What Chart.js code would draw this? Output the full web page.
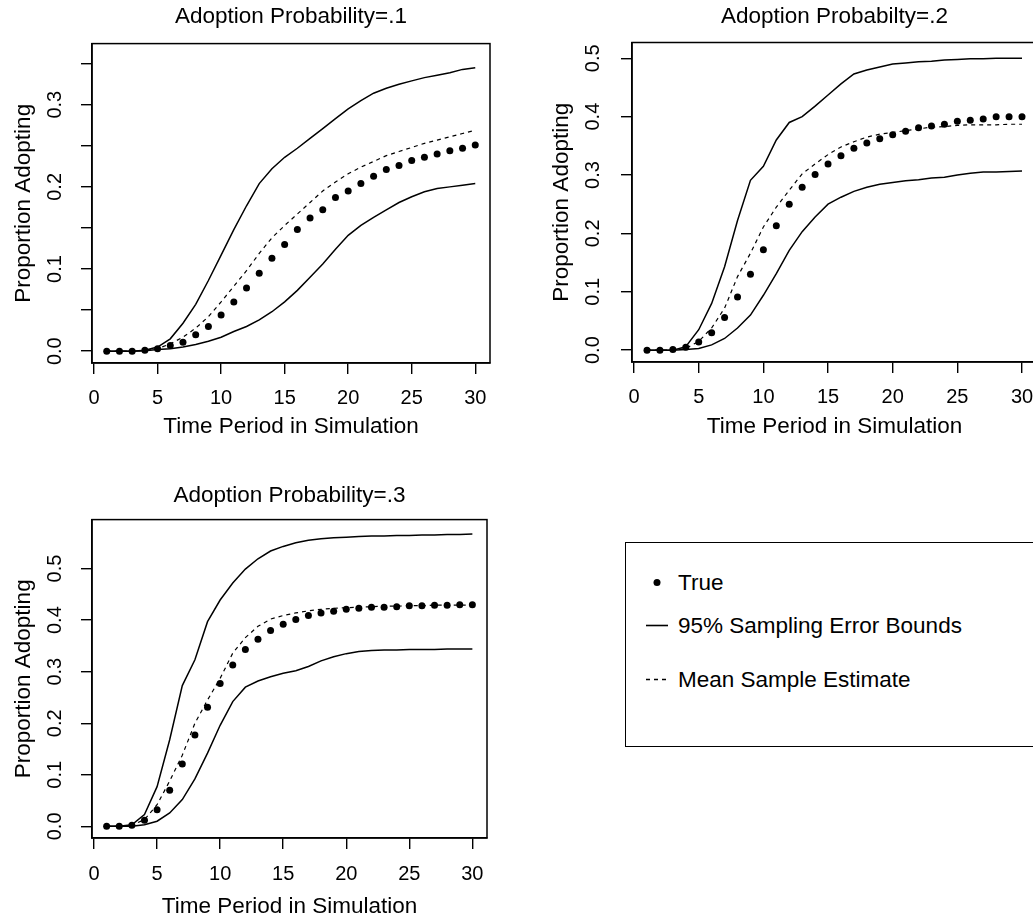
<!DOCTYPE html>
<html>
<head>
<meta charset="utf-8">
<script src="https://cdn.jsdelivr.net/npm/chart.js@4"></script>
<style>
  html, body { margin: 0; padding: 0; background: #fff; width: 1033px; height: 921px; overflow: hidden; }
  canvas { position: absolute; }
  #legend {
    position: absolute; left: 625px; top: 542px; width: 430px; height: 205px;
    border: 1.5px solid #000; box-sizing: border-box;
    font: 22.5px "Liberation Sans", Arial, sans-serif; color: #000;
  }
  #legend .row { position: absolute; left: 0; height: 27px; line-height: 27px; white-space: nowrap; }
  #legend svg { position: absolute; left: 19px; top: 0; }
  #legend span { position: absolute; left: 52px; top: 0; }
</style>
</head>
<body>
<canvas id="p1" width="516" height="440" style="left:0px;top:0px"></canvas>
<canvas id="p2" width="520" height="440" style="left:540px;top:0px"></canvas>
<canvas id="p3" width="516" height="443" style="left:0px;top:478px"></canvas>
<div id="legend">
  <div class="row" style="top:26px">
    <svg width="24" height="27"><circle cx="12" cy="13.5" r="3.5" fill="#000"/></svg>
    <span>True</span>
  </div>
  <div class="row" style="top:69px">
    <svg width="24" height="27"><line x1="1" y1="13.5" x2="23" y2="13.5" stroke="#000" stroke-width="1.6"/></svg>
    <span>95% Sampling Error Bounds</span>
  </div>
  <div class="row" style="top:123px">
    <svg width="24" height="27"><line x1="1" y1="13.5" x2="23" y2="13.5" stroke="#000" stroke-width="1.4" stroke-dasharray="4 4"/></svg>
    <span>Mean Sample Estimate</span>
  </div>
</div>
<script>
const periods = [1, 2, 3, 4, 5, 6, 7, 8, 9, 10, 11, 12, 13, 14, 15, 16, 17, 18, 19, 20, 21, 22, 23, 24, 25, 26, 27, 28, 29, 30];
const xTicks = [0, 5, 10, 15, 20, 25, 30];

// Adoption probability .1
const true1 = [0, 0, 0, 0.001, 0.003, 0.007, 0.011, 0.020, 0.030, 0.044, 0.060, 0.077, 0.095, 0.113, 0.130, 0.148, 0.162, 0.172, 0.187, 0.195, 0.204, 0.213, 0.221, 0.226, 0.232, 0.236, 0.240, 0.244, 0.247, 0.251];
const upper1 = [0, 0, 0, 0.001, 0.005, 0.015, 0.034, 0.057, 0.086, 0.117, 0.148, 0.177, 0.204, 0.222, 0.236, 0.247, 0.259, 0.271, 0.283, 0.295, 0.305, 0.314, 0.320, 0.325, 0.329, 0.333, 0.336, 0.339, 0.343, 0.345];
const lower1 = [0, 0, 0, 0.0005, 0.002, 0.003, 0.005, 0.008, 0.012, 0.017, 0.024, 0.030, 0.038, 0.048, 0.060, 0.074, 0.090, 0.106, 0.124, 0.141, 0.153, 0.163, 0.172, 0.181, 0.188, 0.194, 0.198, 0.200, 0.202, 0.204];
const mean1 = [0, 0, 0, 0.001, 0.003, 0.009, 0.017, 0.028, 0.042, 0.060, 0.079, 0.098, 0.119, 0.138, 0.153, 0.167, 0.181, 0.195, 0.206, 0.216, 0.224, 0.231, 0.238, 0.243, 0.248, 0.253, 0.257, 0.261, 0.265, 0.269];
const yTicks1 = [0, 0.05, 0.1, 0.15, 0.2, 0.25, 0.3, 0.35];
const yLabels1 = ["0.0", "", "0.1", "", "0.2", "", "0.3", ""];

// Adoption probability .2
const true2 = [0, 0, 0.001, 0.005, 0.014, 0.030, 0.056, 0.091, 0.130, 0.172, 0.213, 0.250, 0.279, 0.301, 0.319, 0.333, 0.346, 0.355, 0.362, 0.369, 0.375, 0.381, 0.384, 0.387, 0.392, 0.394, 0.396, 0.400, 0.400, 0.400];
const upper2 = [0, 0, 0, 0.006, 0.035, 0.080, 0.143, 0.222, 0.291, 0.315, 0.360, 0.390, 0.400, 0.418, 0.437, 0.456, 0.473, 0.480, 0.485, 0.490, 0.492, 0.494, 0.495, 0.497, 0.498, 0.499, 0.499, 0.500, 0.500, 0.500];
const lower2 = [0, 0, 0, 0.001, 0.003, 0.009, 0.020, 0.038, 0.060, 0.094, 0.131, 0.171, 0.203, 0.228, 0.250, 0.262, 0.272, 0.279, 0.284, 0.287, 0.290, 0.292, 0.295, 0.296, 0.300, 0.303, 0.305, 0.305, 0.306, 0.307];
const mean2 = [0, 0, 0, 0.003, 0.015, 0.038, 0.072, 0.126, 0.166, 0.211, 0.245, 0.274, 0.302, 0.319, 0.335, 0.348, 0.357, 0.365, 0.370, 0.373, 0.376, 0.379, 0.382, 0.383, 0.385, 0.386, 0.386, 0.386, 0.387, 0.387];
const yTicks2 = [0, 0.1, 0.2, 0.3, 0.4, 0.5];
const yLabels2 = ["0.0", "0.1", "0.2", "0.3", "0.4", "0.5"];

// Adoption probability .3
const true3 = [0, 0, 0.002, 0.012, 0.032, 0.070, 0.121, 0.177, 0.231, 0.277, 0.313, 0.343, 0.363, 0.380, 0.392, 0.401, 0.409, 0.414, 0.417, 0.421, 0.423, 0.425, 0.425, 0.426, 0.428, 0.428, 0.429, 0.429, 0.430, 0.430];
const upper3 = [0, 0, 0.003, 0.023, 0.077, 0.168, 0.273, 0.323, 0.397, 0.439, 0.472, 0.499, 0.519, 0.534, 0.543, 0.550, 0.555, 0.558, 0.560, 0.561, 0.562, 0.563, 0.563, 0.564, 0.564, 0.565, 0.565, 0.566, 0.566, 0.567];
const lower3 = [0, 0, 0, 0.003, 0.010, 0.026, 0.052, 0.092, 0.142, 0.196, 0.242, 0.270, 0.282, 0.290, 0.297, 0.302, 0.310, 0.321, 0.329, 0.335, 0.339, 0.341, 0.342, 0.342, 0.343, 0.343, 0.343, 0.344, 0.344, 0.344];
const mean3 = [0, 0, 0.002, 0.013, 0.042, 0.088, 0.138, 0.200, 0.245, 0.287, 0.336, 0.366, 0.388, 0.402, 0.409, 0.414, 0.418, 0.421, 0.423, 0.424, 0.425, 0.426, 0.427, 0.427, 0.428, 0.428, 0.429, 0.429, 0.429, 0.429];
const yTicks3 = [0, 0.1, 0.2, 0.3, 0.4, 0.5];
const yLabels3 = ["0.0", "0.1", "0.2", "0.3", "0.4", "0.5"];

const FONT = '"Liberation Sans", Arial, Helvetica, sans-serif';
Chart.defaults.font.family = FONT;
Chart.defaults.color = "#000";

// draw the full frame around the plot region
const plotBox = {
    id: "plotBox",
    afterDraw(chart) {
        const { ctx, chartArea: a } = chart;
        ctx.save();
        ctx.strokeStyle = "#000";
        ctx.lineWidth = 1.5;
        ctx.strokeRect(a.left, a.top, a.right - a.left, a.bottom - a.top);
        ctx.restore();
    },
};

function toXY(values) {
    return values.map((y, i) => ({ x: periods[i], y: y }));
}

function makePanel(id, title, series, yTicks, yLabels, yRange, lay) {
    const ctx = document.getElementById(id).getContext("2d");
    new Chart(ctx, {
        type: "line",
        data: {
            datasets: [
                { label: "True", data: toXY(series.truth), showLine: false, pointRadius: 3.5, pointBackgroundColor: "#000", pointBorderWidth: 0 },
                { label: "Upper", data: toXY(series.upper), borderColor: "#000", borderWidth: 1.5, pointRadius: 0, tension: 0 },
                { label: "Lower", data: toXY(series.lower), borderColor: "#000", borderWidth: 1.5, pointRadius: 0, tension: 0 },
                { label: "Mean", data: toXY(series.mean), borderColor: "#000", borderWidth: 1.2, borderDash: [4, 4], pointRadius: 0, tension: 0 },
            ],
        },
        options: {
            responsive: false,
            animation: false,
            devicePixelRatio: 1,
            layout: { padding: { left: 0, right: lay.padRight, top: 0, bottom: 0 } },
            plugins: {
                legend: { display: false },
                tooltip: { enabled: false },
                title: {
                    display: true,
                    fullSize: false,
                    text: title,
                    color: "#000",
                    font: { size: 22.5, weight: "normal" },
                    padding: lay.titlePad,
                },
            },
            scales: {
                x: {
                    type: "linear",
                    min: -0.16,
                    max: 31.16,
                    afterBuildTicks: (scale) => { scale.ticks = xTicks.map((v) => ({ value: v })); },
                    afterFit: (scale) => { scale.height = lay.xHeight; },
                    grid: { drawOnChartArea: false, drawTicks: true, tickLength: 11, color: "#000", lineWidth: 1.4 },
                    border: { display: true, color: "#000", width: 1.5 },
                    ticks: { font: { size: 20 }, color: "#000", padding: lay.xTickPad, maxRotation: 0 },
                    title: { display: true, text: "Time Period in Simulation", font: { size: 22.5 }, color: "#000", padding: { top: 0, bottom: lay.xTitlePad } },
                },
                y: {
                    type: "linear",
                    min: yRange[0],
                    max: yRange[1],
                    afterBuildTicks: (scale) => { scale.ticks = yTicks.map((v) => ({ value: v })); },
                    afterFit: (scale) => { scale.width = lay.yWidth; },
                    grid: { drawOnChartArea: false, drawTicks: true, tickLength: 11, color: "#000", lineWidth: 1.4 },
                    border: { display: true, color: "#000", width: 1.5 },
                    ticks: {
                        font: { size: 20 },
                        color: "#000",
                        padding: lay.yTickPad,
                        minRotation: 90,
                        maxRotation: 90,
                        crossAlign: "center",
                        callback: (value, index) => yLabels[index],
                    },
                    title: { display: true, text: "Proportion Adopting", font: { size: 22.5 }, color: "#000", padding: { top: lay.yTitlePad, bottom: 0 } },
                },
            },
        },
        plugins: [plotBox],
    });
}

makePanel("p1", "Adoption Probability=.1",
    { truth: true1, upper: upper1, lower: lower1, mean: mean1 },
    yTicks1, yLabels1, [-0.0144, 0.3744],
    { padRight: 26, titlePad: { top: 3, bottom: 13.6 }, xHeight: 77, yWidth: 92, yTickPad: 12, yTitlePad: 10, xTickPad: 12, xTitlePad: 0 });

makePanel("p2", "Adoption Probabilty=.2",
    { truth: true2, upper: upper2, lower: lower2, mean: mean2 },
    yTicks2, yLabels2, [-0.0203, 0.527],
    { padRight: 23, titlePad: { top: 3.5, bottom: 12 }, xHeight: 78, yWidth: 92, yTickPad: 14, yTitlePad: 8.5, xTickPad: 12, xTitlePad: 0 });

makePanel("p3", "Adoption Probability=.3",
    { truth: true3, upper: upper3, lower: lower3, mean: mean3 },
    yTicks3, yLabels3, [-0.0226, 0.595],
    { padRight: 29, titlePad: { top: 4, bottom: 10.6 }, xHeight: 83, yWidth: 92, yTickPad: 12, yTitlePad: 10, xTickPad: 13, xTitlePad: 1 });
</script>
</body>
</html>
